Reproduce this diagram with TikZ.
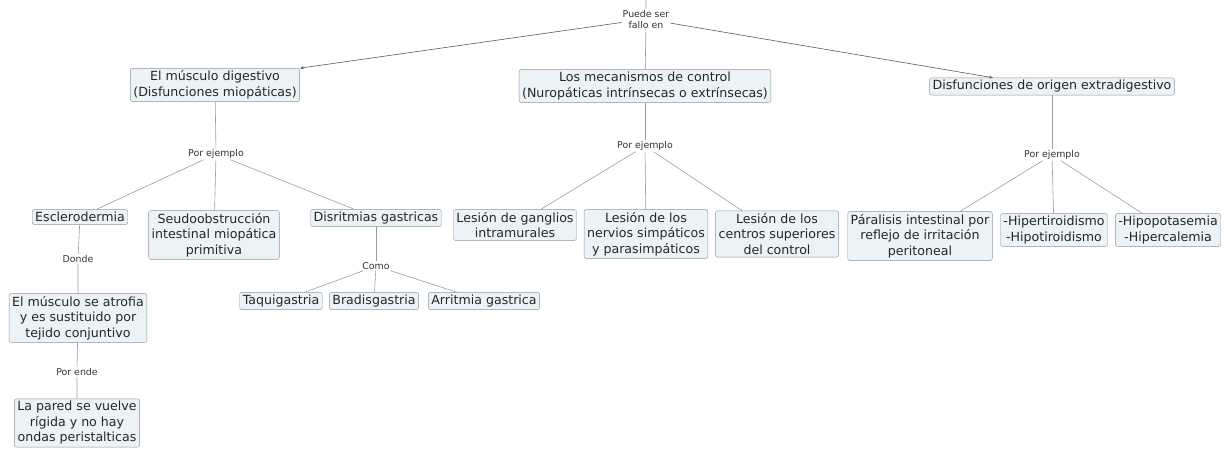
\documentclass[tikz,border=0pt]{standalone}
\usepackage{fontspec}
\setmainfont{DejaVu Sans}
\usetikzlibrary{arrows.meta}
\definecolor{boxfill}{HTML}{EBF3F6}
\definecolor{boxline}{HTML}{8C979C}
\definecolor{linkline}{HTML}{9C9C9C}
\definecolor{toplink}{HTML}{5A5A5A}
\begin{document}
\begin{tikzpicture}[x=1pt,y=-1pt,
    concept/.style={draw=boxline,fill=boxfill,rounded corners=2pt,align=center,
      inner xsep=3pt,inner ysep=2.5pt,font=\fontsize{12.6}{15.5}\selectfont,text=black!85},
    linkword/.style={align=center,inner sep=1pt,font=\fontsize{9.4}{11}\selectfont,text=black!80},
    link/.style={draw=linkline,line width=0.6pt},
    toparrow/.style={draw=toplink,line width=0.6pt,-{Stealth[length=4pt,width=3pt]}}]
  \useasboundingbox (0,0) rectangle (1231,456);
  % top level
  \coordinate (root) at (646,0);
  \node[linkword] (fallo) at (646,19) {Puede ser\\fallo en};
  \node[concept] (musculo) at (215,85) {El músculo digestivo\\(Disfunciones miopáticas)};
  \node[concept] (mecanismos) at (645,86) {Los mecanismos de control\\(Nuropáticas intrínsecas o extrínsecas)};
  \node[concept] (extra) at (1052,86.5) {Disfunciones de origen extradigestivo};
  \draw[link] (root) -- (fallo) -- (mecanismos);
  \draw[toparrow] (fallo) -- (musculo.north east);
  \draw[toparrow] (fallo) -- (extra.north west -| 993,0);
  % musculo digestivo
  \node[linkword] (ej1) at (216,154) {Por ejemplo};
  \node[concept] (esclero) at (80,217) {Esclerodermia};
  \node[concept] (seudo) at (214,235) {Seudoobstrucción\\intestinal miopática\\primitiva};
  \node[concept] (disrit) at (376,218) {Disritmias gastricas};
  \node[linkword] (donde) at (78,259) {Donde};
  \node[concept] (atrofia) at (78,318) {El músculo se atrofia\\y es sustituido por\\tejido conjuntivo};
  \node[linkword] (ende) at (77,372) {Por ende};
  \node[concept] (pared) at (77,423) {La pared se vuelve\\rígida y no hay\\ondas peristalticas};
  \node[linkword] (como) at (376,266) {Como};
  \node[concept] (taqui) at (281,301) {Taquigastria};
  \node[concept] (bradis) at (374,301) {Bradisgastria};
  \node[concept] (arrit) at (484,301) {Arritmia gastrica};
  \draw[link] (musculo) -- (ej1);
  \foreach \n in {esclero,seudo,disrit} \draw[link] (ej1) -- (\n);
  \draw[link] (esclero) -- (donde) -- (atrofia) -- (ende) -- (pared);
  \draw[link] (disrit) -- (como);
  \foreach \n in {taqui,bradis,arrit} \draw[link] (como) -- (\n);
  % mecanismos de control
  \node[linkword] (ej2) at (645,146) {Por ejemplo};
  \node[concept] (gangl) at (515,225) {Lesión de ganglios\\intramurales};
  \node[concept] (nerv) at (646,234) {Lesión de los\\nervios simpáticos\\y parasimpáticos};
  \node[concept] (centr) at (777,234) {Lesión de los\\centros superiores\\del control};
  \draw[link] (mecanismos) -- (ej2);
  \foreach \n in {gangl,nerv,centr} \draw[link] (ej2) -- (\n);
  % origen extradigestivo
  \node[linkword] (ej3) at (1052,155) {Por ejemplo};
  \node[concept] (parali) at (920,236) {Páralisis intestinal por\\reflejo de irritación\\peritoneal};
  \node[concept] (tiro) at (1054,230) {-Hipertiroidismo\\-Hipotiroidismo};
  \node[concept] (pota) at (1168,230) {-Hipopotasemia\\-Hipercalemia};
  \draw[link] (extra) -- (ej3);
  \foreach \n in {parali,tiro,pota} \draw[link] (ej3) -- (\n);
\end{tikzpicture}
\end{document}
